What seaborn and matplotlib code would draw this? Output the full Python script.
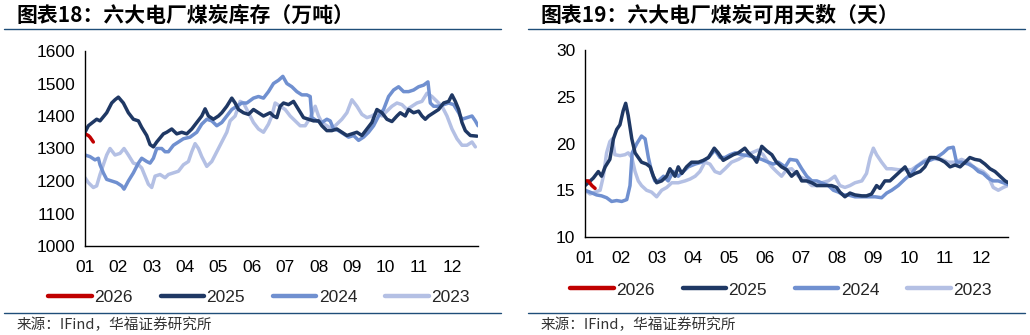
import numpy as np
import pandas as pd
import matplotlib
matplotlib.use("Agg")
import matplotlib.pyplot as plt
import seaborn as sns
from matplotlib.lines import Line2D

sns.set_theme(style="white")
plt.rcParams['font.family'] = ['Liberation Sans', 'Noto Sans CJK SC', 'DejaVu Sans']

# ---------------- data (x = month position, 0 = 01) ----------------
month_labels = ["01", "02", "03", "04", "05", "06", "07", "08", "09", "10", "11", "12"]
years = ["2026", "2025", "2024", "2023"]

# Chart 1: stock (10k tons)
s_2026_x = [0, 0.1, 0.15, 0.25]
s_2026_y = [1345, 1340, 1335, 1320]
s_2025_x = [0, 0.1, 0.35, 0.45, 0.65, 0.8, 0.9, 1.0, 1.15, 1.3, 1.45, 1.6, 1.7, 1.85, 1.95, 2.05, 2.15,
            2.35, 2.45, 2.6, 2.75, 2.9, 3.05, 3.2, 3.35, 3.5, 3.6, 3.7, 3.85, 4.0, 4.1, 4.25, 4.4, 4.5,
            4.6, 4.75, 4.9, 5.05, 5.2, 5.35, 5.45, 5.55, 5.65, 5.75, 5.85, 5.95, 6.1, 6.25, 6.4, 6.55,
            6.7, 6.85, 7.0, 7.1, 7.25, 7.4, 7.55, 7.7, 7.85, 8.0, 8.15, 8.3, 8.45, 8.6, 8.75, 8.9, 9.05,
            9.2, 9.35, 9.45, 9.6, 9.7, 9.85, 10.0, 10.1, 10.2, 10.3, 10.45, 10.6, 10.75, 10.9, 11.0,
            11.1, 11.2, 11.3, 11.4, 11.55, 11.75]
s_2025_y = [1350, 1370, 1390, 1385, 1410, 1440, 1450, 1458, 1440, 1410, 1390, 1385, 1365, 1340, 1312,
            1305, 1320, 1345, 1350, 1360, 1345, 1350, 1345, 1360, 1380, 1400, 1422, 1400, 1390, 1400,
            1410, 1430, 1455, 1440, 1420, 1410, 1405, 1420, 1410, 1400, 1405, 1410, 1400, 1395, 1430,
            1440, 1435, 1445, 1420, 1395, 1390, 1385, 1385, 1370, 1355, 1355, 1360, 1350, 1340, 1345,
            1350, 1340, 1360, 1380, 1420, 1410, 1390, 1383, 1400, 1410, 1400, 1420, 1410, 1415, 1400,
            1390, 1400, 1410, 1420, 1440, 1445, 1465, 1445, 1420, 1380, 1355, 1340, 1338]
s_2024_x = [0, 0.15, 0.3, 0.4, 0.45, 0.55, 0.65, 0.8, 0.95, 1.1, 1.17, 1.3, 1.45, 1.6, 1.7, 1.85, 1.95,
            2.05, 2.15, 2.3, 2.4, 2.5, 2.65, 2.8, 2.95, 3.15, 3.35, 3.5, 3.65, 3.8, 3.95, 4.1, 4.25,
            4.4, 4.55, 4.7, 4.85, 5.05, 5.2, 5.35, 5.5, 5.65, 5.8, 5.93, 6.05, 6.2, 6.35, 6.5, 6.65,
            6.75, 6.8, 6.95, 7.1, 7.25, 7.35, 7.45, 7.6, 7.75, 7.9, 8.05, 8.2, 8.35, 8.5, 8.65, 8.8,
            8.95, 9.1, 9.25, 9.4, 9.55, 9.7, 9.85, 10.0, 10.15, 10.28, 10.35, 10.45, 10.6, 10.75,
            10.9, 11.05, 11.2, 11.3, 11.45, 11.6, 11.7, 11.78]
s_2024_y = [1280, 1275, 1265, 1270, 1250, 1225, 1205, 1200, 1195, 1185, 1175, 1200, 1225, 1255, 1270,
            1260, 1255, 1270, 1300, 1300, 1290, 1290, 1310, 1320, 1330, 1335, 1350, 1375, 1390, 1385,
            1370, 1380, 1400, 1420, 1430, 1440, 1440, 1455, 1460, 1455, 1475, 1500, 1510, 1522, 1500,
            1490, 1475, 1465, 1465, 1460, 1395, 1385, 1380, 1390, 1385, 1360, 1355, 1345, 1335, 1340,
            1325, 1335, 1350, 1370, 1400, 1420, 1460, 1480, 1490, 1475, 1475, 1480, 1490, 1495, 1505,
            1440, 1430, 1430, 1435, 1440, 1435, 1410, 1390, 1395, 1400, 1385, 1370]
s_2023_x = [0, 0.1, 0.25, 0.35, 0.45, 0.55, 0.65, 0.75, 0.9, 1.05, 1.17, 1.3, 1.45, 1.6, 1.7, 1.8, 1.9,
            2.0, 2.1, 2.25, 2.4, 2.5, 2.65, 2.8, 2.95, 3.1, 3.2, 3.3, 3.4, 3.5, 3.65, 3.8, 3.95, 4.1,
            4.25, 4.35, 4.5, 4.65, 4.75, 4.9, 5.05, 5.2, 5.35, 5.5, 5.6, 5.7, 5.85, 6.0, 6.15, 6.3,
            6.45, 6.6, 6.75, 6.9, 7.0, 7.1, 7.25, 7.4, 7.55, 7.7, 7.85, 8.0, 8.15, 8.3, 8.45, 8.6,
            8.75, 8.9, 9.05, 9.2, 9.35, 9.5, 9.65, 9.8, 9.95, 10.1, 10.25, 10.4, 10.55, 10.7, 10.85,
            11.0, 11.15, 11.3, 11.45, 11.6, 11.7]
s_2023_y = [1210, 1195, 1180, 1185, 1220, 1250, 1280, 1300, 1280, 1285, 1300, 1280, 1255, 1250, 1240,
            1215, 1190, 1180, 1215, 1220, 1210, 1220, 1225, 1230, 1250, 1260, 1290, 1315, 1300, 1275,
            1245, 1260, 1290, 1320, 1350, 1385, 1400, 1445, 1440, 1410, 1380, 1360, 1350, 1375, 1400,
            1440, 1430, 1420, 1400, 1385, 1370, 1370, 1395, 1430, 1400, 1380, 1370, 1360, 1375, 1390,
            1410, 1450, 1430, 1405, 1395, 1400, 1410, 1400, 1415, 1430, 1440, 1435, 1420, 1430, 1440,
            1445, 1470, 1460, 1445, 1430, 1400, 1360, 1330, 1310, 1310, 1320, 1305]

# Chart 2: usable days
d_2026_x = [0, 0.09, 0.19, 0.28]
d_2026_y = [16.0, 16.0, 15.5, 15.2]
d_2025_x = [0, 0.09, 0.23, 0.37, 0.46, 0.56, 0.69, 0.79, 0.88, 0.97, 1.06, 1.13, 1.2, 1.3, 1.39, 1.48,
            1.57, 1.71, 1.81, 1.9, 1.99, 2.13, 2.27, 2.36, 2.5, 2.59, 2.69, 2.82, 2.96, 3.15, 3.29,
            3.43, 3.59, 3.7, 3.84, 3.98, 4.12, 4.26, 4.44, 4.54, 4.68, 4.77, 4.91, 5.05, 5.19, 5.32,
            5.46, 5.6, 5.74, 5.88, 6.02, 6.16, 6.3, 6.44, 6.57, 6.71, 6.85, 6.99, 7.08, 7.22, 7.36,
            7.5, 7.69, 7.82, 7.96, 8.1, 8.19, 8.33, 8.47, 8.61, 8.75, 8.89, 9.03, 9.17, 9.31, 9.44,
            9.58, 9.72, 9.86, 10.0, 10.14, 10.28, 10.42, 10.56, 10.69, 10.83, 10.97, 11.11, 11.25,
            11.39, 11.53, 11.67, 11.76]
d_2025_y = [15.5, 15.8, 16.3, 17.0, 16.5, 17.5, 18.3, 20.5, 21.5, 22.0, 23.5, 24.3, 23.0, 20.5, 19.0,
            18.5, 18.0, 17.8, 17.5, 16.5, 15.8, 16.0, 16.5, 17.3, 16.5, 17.5, 16.8, 17.5, 18.0, 18.0,
            18.2, 18.5, 19.5, 19.0, 18.2, 18.5, 18.8, 19.0, 19.5, 19.0, 18.5, 18.0, 19.7, 19.2, 18.8,
            18.0, 17.5, 17.2, 16.5, 17.0, 16.0, 16.0, 15.8, 15.5, 15.5, 15.5, 15.5, 15.3, 14.8, 14.3,
            14.7, 14.5, 14.4, 14.4, 14.6, 15.5, 15.2, 16.0, 16.0, 16.5, 17.0, 17.5, 16.5, 16.8, 17.0,
            17.5, 18.5, 18.5, 18.3, 18.0, 17.5, 17.7, 17.5, 18.0, 18.5, 18.3, 18.2, 17.8, 17.3, 17.0,
            16.5, 16.0, 15.8]
d_2024_x = [0, 0.14, 0.32, 0.46, 0.6, 0.74, 0.88, 1.02, 1.16, 1.25, 1.31, 1.44, 1.57, 1.67, 1.76, 1.85,
            1.94, 2.04, 2.18, 2.31, 2.45, 2.59, 2.73, 2.87, 3.06, 3.24, 3.43, 3.61, 3.75, 3.89, 4.03,
            4.17, 4.35, 4.54, 4.72, 4.91, 5.09, 5.23, 5.37, 5.56, 5.69, 5.88, 6.02, 6.16, 6.3, 6.44,
            6.57, 6.76, 6.9, 7.04, 7.18, 7.31, 7.5, 7.69, 7.87, 8.06, 8.24, 8.38, 8.52, 8.7, 8.89,
            9.07, 9.21, 9.4, 9.58, 9.77, 9.95, 10.09, 10.23, 10.32, 10.46, 10.65, 10.79, 10.93, 11.06,
            11.2, 11.34, 11.48, 11.62, 11.76]
d_2024_y = [15.0, 14.8, 14.5, 14.4, 14.2, 13.8, 13.9, 13.8, 14.0, 15.5, 19.0, 20.0, 20.8, 20.5, 18.5,
            17.0, 16.0, 16.0, 16.5, 16.0, 17.0, 16.5, 17.0, 17.5, 17.8, 18.0, 18.5, 19.3, 18.5, 18.5,
            18.8, 19.0, 18.8, 18.7, 18.5, 18.3, 18.0, 17.8, 18.0, 17.5, 18.3, 18.2, 17.3, 16.5, 16.0,
            16.0, 15.8, 15.5, 15.0, 14.8, 14.5, 14.5, 14.3, 14.3, 14.3, 14.3, 14.2, 14.7, 15.0, 15.5,
            16.2, 16.8, 17.5, 18.0, 18.2, 18.5, 19.0, 19.5, 19.6, 18.0, 18.0, 17.8, 17.5, 17.0, 16.8,
            16.3, 16.0, 16.0, 15.8, 15.6]
d_2023_x = [0, 0.14, 0.28, 0.42, 0.51, 0.6, 0.69, 0.76, 0.83, 0.97, 1.11, 1.2, 1.3, 1.39, 1.48, 1.57,
            1.71, 1.85, 1.99, 2.13, 2.27, 2.41, 2.59, 2.78, 2.92, 3.06, 3.19, 3.33, 3.47, 3.61, 3.75,
            3.89, 4.07, 4.26, 4.44, 4.63, 4.81, 4.95, 5.05, 5.19, 5.32, 5.46, 5.6, 5.74, 5.93, 6.11,
            6.3, 6.44, 6.57, 6.76, 6.94, 7.08, 7.22, 7.36, 7.5, 7.69, 7.82, 7.92, 8.01, 8.1, 8.24,
            8.38, 8.52, 8.7, 8.89, 9.07, 9.26, 9.44, 9.63, 9.77, 9.91, 10.09, 10.28, 10.46, 10.65,
            10.79, 10.93, 11.06, 11.2, 11.34, 11.48, 11.62, 11.74]
d_2023_y = [15.0, 14.6, 14.8, 15.0, 16.5, 19.0, 20.2, 20.5, 18.8, 18.7, 18.8, 19.0, 18.5, 17.0, 16.0,
            15.5, 15.0, 14.8, 14.3, 15.0, 15.3, 15.8, 15.8, 16.0, 16.2, 16.5, 17.0, 18.0, 17.8, 17.0,
            16.8, 17.3, 18.0, 18.3, 18.7, 19.0, 19.3, 18.8, 18.2, 17.5, 17.0, 16.5, 17.2, 17.3, 16.5,
            16.2, 15.5, 15.5, 15.8, 16.0, 16.5, 15.5, 15.3, 15.5, 15.8, 16.0, 16.8, 18.5, 19.5, 18.8,
            18.0, 17.3, 17.3, 17.2, 17.2, 17.2, 17.7, 18.2, 18.5, 18.3, 18.3, 18.0, 18.0, 18.3, 18.0,
            17.5, 17.2, 17.0, 16.5, 15.3, 15.0, 15.3, 15.5]

colors = {"2026": "#C00000", "2025": "#1F3864", "2024": "#7090D0", "2023": "#B4C0E4"}

stock = {"2026": (s_2026_x, s_2026_y), "2025": (s_2025_x, s_2025_y),
         "2024": (s_2024_x, s_2024_y), "2023": (s_2023_x, s_2023_y)}
days = {"2026": (d_2026_x, d_2026_y), "2025": (d_2025_x, d_2025_y),
        "2024": (d_2024_x, d_2024_y), "2023": (d_2023_x, d_2023_y)}

W, H = 1030, 335
fig = plt.figure(figsize=(W / 100, H / 100), dpi=100)
fig.patch.set_facecolor("white")

def fx(px):
    return px / W

def fy(py):
    return 1 - py / H

def draw_panel(rect, series, ylim, yticks, xmax):
    ax = fig.add_axes(rect)
    for yr in ["2023", "2024", "2025", "2026"]:
        xs, ys = series[yr]
        df = pd.DataFrame({"m": xs, "v": ys})
        sns.lineplot(data=df, x="m", y="v", ax=ax, color=colors[yr], lw=2.5,
                     estimator=None, sort=False, legend=False)
    ax.set_xlim(0, xmax)
    ax.set_ylim(*ylim)
    ax.set_yticks(yticks)
    ax.set_xticks(range(12))
    ax.set_xticklabels(month_labels)
    ax.set_xlabel("")
    ax.set_ylabel("")
    for s in ["top", "right"]:
        ax.spines[s].set_visible(False)
    for s in ["left", "bottom"]:
        ax.spines[s].set_color("black")
        ax.spines[s].set_linewidth(1.0)
    ax.tick_params(axis="both", direction="out", length=4, width=1, color="black",
                   labelsize=12.5, labelcolor="black", pad=3)
    ax.tick_params(axis="x", pad=6)
    ax.grid(False)
    return ax

ax1 = draw_panel([fx(85), fy(246), fx(478 - 85), (246 - 51) / H], stock,
                 (1000, 1600), [1000, 1100, 1200, 1300, 1400, 1500, 1600], 11.78)
ax2 = draw_panel([fx(585), fy(237), fx(1008 - 585), (237 - 50) / H], days,
                 (10, 30), [10, 15, 20, 25, 30], 11.75)

# titles, separators, source
line_col = "#1F4E79"
cjk = ['Noto Sans CJK SC', 'DejaVu Sans']
for (x0, x1, tx, title) in [(4, 501, 17, "图表18：六大电厂煤炭库存（万吨）"),
                            (528, 1025, 541, "图表19：六大电厂煤炭可用天数（天）")]:
    fig.add_artist(Line2D([fx(x0), fx(x1)], [fy(29), fy(29)], color=line_col, lw=1.0))
    fig.add_artist(Line2D([fx(x0), fx(x1)], [fy(313), fy(313)], color=line_col, lw=1.0))
    fig.text(fx(tx), fy(15), title, family=cjk, fontsize=15, fontweight="bold",
             color="black", va="center", ha="left")
    fig.text(fx(tx), fy(325), "来源：IFind，华福证券研究所", family=cjk, fontsize=10.5,
             color="#333333", va="center", ha="left")

# legends
handles = [Line2D([], [], color=colors[y], lw=3.2) for y in years]
for cx, cy in [(259 / W, fy(297)), (781 / W, fy(290))]:
    fig.legend(handles, years, loc="center", bbox_to_anchor=(cx, cy), ncol=4, frameon=False,
               fontsize=12.5, handlelength=2.5, handletextpad=0.15, columnspacing=1.6,
               borderaxespad=0, borderpad=0)

fig.savefig("out.png", dpi=100, facecolor="white")
